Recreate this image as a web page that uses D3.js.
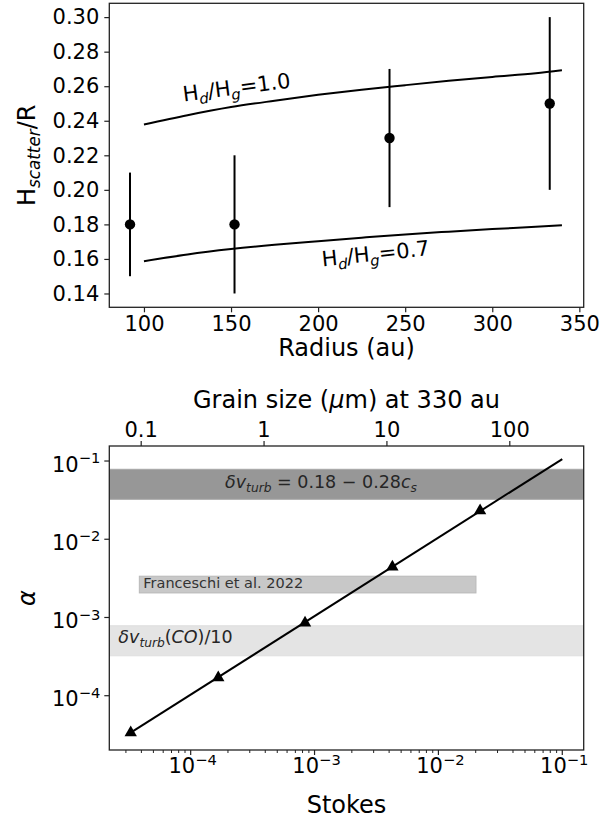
<!DOCTYPE html>
<html>
<head>
<meta charset="utf-8">
<script src="https://cdn.jsdelivr.net/npm/d3@7"></script>
<style>
  html, body { margin: 0; padding: 0; background: #fff; }
  svg { display: block; }
  text { font-family: "DejaVu Sans", sans-serif; white-space: pre; }
</style>
</head>
<body>
<svg id="chart" width="615" height="822"></svg>
<script>
// ---------------- DATA ----------------
// Top panel: scattering height vs radius
const radius     = [92, 152, 241, 333];
const hScatter   = [0.18, 0.18, 0.23, 0.25];
const hErrLow    = [0.15, 0.14, 0.19, 0.20];
const hErrHigh   = [0.21, 0.22, 0.27, 0.30];
const modelR     = [100, 125, 150, 175, 200, 225, 250, 275, 300, 325, 340];
const model10    = [0.2378, 0.2432, 0.2479, 0.2516, 0.2550, 0.2580, 0.2606, 0.2631, 0.2654, 0.2675, 0.2692];
const model07    = [0.1587, 0.1626, 0.1657, 0.1682, 0.1703, 0.1723, 0.1742, 0.1758, 0.1773, 0.1786, 0.1795];
const topXTicks  = [100, 150, 200, 250, 300, 350];
const topYTicks  = [0.14, 0.16, 0.18, 0.20, 0.22, 0.24, 0.26, 0.28, 0.30];

// Bottom panel: alpha vs Stokes
const stokes     = [3.28e-5, 1.67e-4, 8.38e-4, 4.25e-3, 0.0217];
const alphaVals  = [3.37e-5, 1.70e-4, 8.53e-4, 4.43e-3, 0.0232];
const lineStokes = [3.28e-5, 0.1];
const lineAlpha  = [3.37e-5, 0.106];
const turbBand   = [0.0324, 0.0784];      // (0.18-0.28 c_s)^2
const coBand     = [3.24e-4, 7.84e-4];    // (dv_turb(CO)/10)^2
const franStokes = [3.85e-5, 0.0201];
const franAlpha  = [2.06e-3, 3.37e-3];
const alphaTicks = [1e-4, 1e-3, 1e-2, 1e-1];
const alphaTickExp = ["−4", "−3", "−2", "−1"];
const stokesTicks = [1e-4, 1e-3, 1e-2, 1e-1];
const stokesTickExp = ["−4", "−3", "−2", "−1"];
const grainTicks = [0.1, 1, 10, 100];
const grainTickLabels = ["0.1", "1", "10", "100"];

// ---------------- LAYOUT ----------------
const svg = d3.select("#chart");
const FS_TICK = 21, FS_LABEL = 24;
const L = 109.3, R = 583.7;
const topT = 3.3, topB = 307.3;
const botT = 446, botB = 750;

// helper for mathtext-like strings
function mtext(parent, x, y, parts, fs, opts = {}) {
  const t = parent.append("text")
    .attr("x", x).attr("y", y)
    .attr("font-size", fs)
    .attr("text-anchor", opts.anchor || "start")
    .attr("fill", opts.fill || "#000");
  let cur = 0;
  parts.forEach(p => {
    const ts = t.append("tspan").text(p.t);
    let shift = 0;
    if (p.sub) { ts.attr("font-size", fs * 0.7); shift = fs * 0.22; }
    if (p.sup) { ts.attr("font-size", fs * 0.7); shift = -fs * 0.40; }
    if (p.i) ts.attr("font-style", "italic");
    if (shift !== cur) { ts.attr("dy", shift - cur); cur = shift; }
  });
  return t;
}

// ================= TOP PANEL =================
const xTop = d3.scaleLinear().domain([80.1, 352.5]).range([L, R]);
const yTop = d3.scaleLinear().domain([0.132, 0.308]).range([topB, topT]);
const gTop = svg.append("g");

// model curves
const lineTop = d3.line().curve(d3.curveMonotoneX).x((d, i) => xTop(modelR[i])).y(d => yTop(d));
gTop.append("path").datum(model10).attr("d", lineTop)
  .attr("fill", "none").attr("stroke", "#000").attr("stroke-width", 2);
gTop.append("path").datum(model07).attr("d", lineTop)
  .attr("fill", "none").attr("stroke", "#000").attr("stroke-width", 2);

// error bars + points
gTop.selectAll("line.err").data(radius).enter().append("line")
  .attr("x1", d => xTop(d)).attr("x2", d => xTop(d))
  .attr("y1", (d, i) => yTop(hErrLow[i])).attr("y2", (d, i) => yTop(hErrHigh[i]))
  .attr("stroke", "#000").attr("stroke-width", 2);
gTop.selectAll("circle.pt").data(radius).enter().append("circle")
  .attr("cx", d => xTop(d)).attr("cy", (d, i) => yTop(hScatter[i]))
  .attr("r", 5.2).attr("fill", "#000");

// curve labels
const lab1 = gTop.append("g").attr("transform", "translate(237.5,94.5) rotate(-7.4)");
mtext(lab1, 0, 0, [{t:"H"},{t:"d",sub:1,i:1},{t:"/H"},{t:"g",sub:1,i:1},{t:"=1.0"}], 21, {anchor:"middle"});
const lab2 = gTop.append("g").attr("transform", "translate(376.3,260.8) rotate(-6)");
mtext(lab2, 0, 0, [{t:"H"},{t:"d",sub:1,i:1},{t:"/H"},{t:"g",sub:1,i:1},{t:"=0.7"}], 21, {anchor:"middle"});

// frame
gTop.append("rect").attr("x", L).attr("y", topT).attr("width", R - L).attr("height", topB - topT)
  .attr("fill", "none").attr("stroke", "#222").attr("stroke-width", 1.3);

// axes ticks
const axXTop = d3.axisBottom(xTop).tickValues(topXTicks).tickSize(5).tickPadding(4).tickFormat(d3.format("d"));
const axYTop = d3.axisLeft(yTop).tickValues(topYTicks).tickSize(5).tickPadding(5).tickFormat(d3.format(".2f"));
const gx = gTop.append("g").attr("transform", `translate(0,${topB})`).call(axXTop);
const gy = gTop.append("g").attr("transform", `translate(${L},0)`).call(axYTop);
[gx, gy].forEach(g => {
  g.select(".domain").remove();
  g.selectAll(".tick line").attr("stroke", "#222").attr("stroke-width", 1.2);
  g.selectAll(".tick text").attr("font-size", FS_TICK).attr("font-family", "DejaVu Sans").attr("fill", "#000");
});

// axis labels
gTop.append("text").attr("x", (L + R) / 2).attr("y", 356).attr("text-anchor", "middle")
  .attr("font-size", FS_LABEL).text("Radius (au)");
const yl = gTop.append("g").attr("transform", `translate(35,${(topT + topB) / 2}) rotate(-90)`);
mtext(yl, 0, 0, [{t:"H"},{t:"scatter",sub:1,i:1},{t:"/R"}], FS_LABEL, {anchor:"middle"});

// ================= BOTTOM PANEL =================
const xSt = d3.scaleLog().domain([2.203e-5, 0.1489]).range([L, R]);
const yA  = d3.scaleLog().domain([2.023e-5, 0.1556]).range([botB, botT]);
const xGr = d3.scaleLog().domain([0.05553, 403.2]).range([L, R]);
const gBot = svg.append("g");
const defs = svg.append("defs");
defs.append("clipPath").attr("id", "clipBot").append("rect")
  .attr("x", L).attr("y", botT).attr("width", R - L).attr("height", botB - botT);
const gPlot = gBot.append("g").attr("clip-path", "url(#clipBot)");

// bands
gPlot.append("rect").attr("x", L).attr("width", R - L)
  .attr("y", yA(turbBand[1])).attr("height", yA(turbBand[0]) - yA(turbBand[1]))
  .attr("fill", "#979797").attr("stroke", "#a8a8a8").attr("stroke-width", 1);
gPlot.append("rect").attr("x", L).attr("width", R - L)
  .attr("y", yA(coBand[1])).attr("height", yA(coBand[0]) - yA(coBand[1]))
  .attr("fill", "#e4e4e4").attr("stroke", "#dedede").attr("stroke-width", 1);
gPlot.append("rect").attr("x", xSt(franStokes[0])).attr("width", xSt(franStokes[1]) - xSt(franStokes[0]))
  .attr("y", yA(franAlpha[1])).attr("height", yA(franAlpha[0]) - yA(franAlpha[1]))
  .attr("fill", "#c8c8c8").attr("stroke", "#b9b9b9").attr("stroke-width", 1);

// band labels
mtext(gPlot, 321, 488.3, [{t:"δv",i:1},{t:"turb",sub:1,i:1},{t:" = 0.18 − 0.28"},{t:"c",i:1},{t:"s",sub:1,i:1}], 17.5, {anchor:"middle", fill:"#262626"});
mtext(gPlot, 118.3, 643.3, [{t:"δv",i:1},{t:"turb",sub:1,i:1},{t:"("},{t:"CO",i:1},{t:")/10"}], 17.5, {fill:"#262626"});
gPlot.append("text").attr("x", 143.3).attr("y", 588.3).attr("font-size", 14.5).attr("fill", "#333")
  .text("Franceschi et al. 2022");

// line and triangles
const lineBot = d3.line().x((d, i) => xSt(lineStokes[i])).y(d => yA(d));
gPlot.append("path").datum(lineAlpha).attr("d", lineBot)
  .attr("fill", "none").attr("stroke", "#000").attr("stroke-width", 2);
gPlot.selectAll("path.tri").data(stokes).enter().append("path")
  .attr("d", d3.symbol().type(d3.symbolTriangle).size(66))
  .attr("transform", (d, i) => `translate(${xSt(d)},${yA(alphaVals[i])})`)
  .attr("fill", "#000");

// frame
gBot.append("rect").attr("x", L).attr("y", botT).attr("width", R - L).attr("height", botB - botT)
  .attr("fill", "none").attr("stroke", "#222").attr("stroke-width", 1.3);

// y ticks (alpha)
alphaTicks.forEach((v, i) => {
  const y = yA(v);
  gBot.append("line").attr("x1", L - 5).attr("x2", L).attr("y1", y).attr("y2", y)
    .attr("stroke", "#222").attr("stroke-width", 1.2);
  mtext(gBot, L - 9, y + 10.5, [{t:"10"},{t:alphaTickExp[i],sup:1}], FS_TICK, {anchor:"end"});
});

// x ticks (Stokes): major + minor
const minorSt = [];
[1e-5, 1e-4, 1e-3, 1e-2, 1e-1].forEach(dec => {
  for (let k = 2; k <= 9; k++) {
    const v = dec * k;
    if (v > xSt.domain()[0] && v < xSt.domain()[1]) minorSt.push(v);
  }
});
gBot.selectAll("line.minor").data(minorSt).enter().append("line")
  .attr("x1", d => xSt(d)).attr("x2", d => xSt(d))
  .attr("y1", botB).attr("y2", botB + 3)
  .attr("stroke", "#222").attr("stroke-width", 1);
stokesTicks.forEach((v, i) => {
  const x = xSt(v);
  gBot.append("line").attr("x1", x).attr("x2", x).attr("y1", botB).attr("y2", botB + 5)
    .attr("stroke", "#222").attr("stroke-width", 1.2);
  mtext(gBot, x + 2, 773.3, [{t:"10"},{t:stokesTickExp[i],sup:1}], FS_TICK, {anchor:"middle"});
});

// top x ticks (grain size)
const axGr = d3.axisTop(xGr).tickValues(grainTicks).tickSize(5).tickPadding(4)
  .tickFormat((d, i) => grainTickLabels[i]);
const gg = gBot.append("g").attr("transform", `translate(0,${botT})`).call(axGr);
gg.select(".domain").remove();
gg.selectAll(".tick line").attr("stroke", "#222").attr("stroke-width", 1.2);
gg.selectAll(".tick text").attr("font-size", FS_TICK).attr("font-family", "DejaVu Sans").attr("fill", "#000");

// axis labels
gBot.append("text").attr("x", (L + R) / 2).attr("y", 813).attr("text-anchor", "middle")
  .attr("font-size", FS_LABEL).text("Stokes");
mtext(gBot, (L + R) / 2, 408, [{t:"Grain size ("},{t:"μ",i:1},{t:"m) at 330 au"}], FS_LABEL, {anchor:"middle"});
const al = gBot.append("g").attr("transform", `translate(35,${(botT + botB) / 2}) rotate(-90)`);
al.append("text").attr("text-anchor", "middle").attr("font-size", FS_LABEL).attr("font-style", "italic").text("α");
</script>
</body>
</html>
